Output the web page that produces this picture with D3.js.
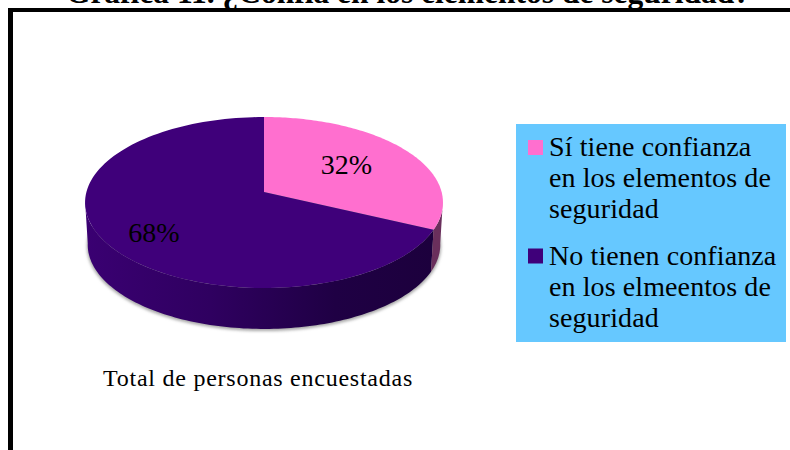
<!DOCTYPE html>
<html><head><meta charset="utf-8">
<script src="https://cdn.jsdelivr.net/npm/d3@7"></script>
<style>html,body{margin:0;padding:0;background:#fff;overflow:hidden}svg{display:block}text{font-family:"Liberation Serif",serif;fill:#000}</style>
</head><body><svg id="c" width="790" height="450"></svg>
<script>
const titleText = "Gráfica 11. ¿Confía en los elementos de seguridad?";
const categoryLabel = "Total de personas encuestadas";
const seriesValues = [32, 68];
const valueLabels = ["32%", "68%"];
const legendLines = [
  ["Sí tiene confianza", "en los elementos de", "seguridad"],
  ["No tienen confianza", "en los elmeentos de", "seguridad"]
];
const topColors = ["#ff6fcf", "#3f007a"];

const svg = d3.select("#c");
const defs = svg.append("defs");
const g = defs.append("linearGradient").attr("id", "wallDark").attr("gradientUnits", "userSpaceOnUse")
  .attr("x1", 85).attr("x2", 443).attr("y1", 0).attr("y2", 0);
[[0, "#3a0072"], [0.35, "#2f0060"], [0.7, "#1f0044"], [1, "#1c003c"]]
  .forEach(s => g.append("stop").attr("offset", s[0]).attr("stop-color", s[1]));
defs.append("filter").attr("id", "blur").attr("x", "-10%").attr("y", "-20%").attr("width", "120%").attr("height", "140%")
  .append("feGaussianBlur").attr("stdDeviation", 1.8);

// frame: left and top edges are visible, the rest runs off the page
svg.append("rect").attr("x", 8).attr("y", 8).attr("width", 782).attr("height", 4).attr("fill", "#000");
svg.append("rect").attr("x", 8).attr("y", 8).attr("width", 5).attr("height", 442).attr("fill", "#000");

// title, clipped by the top of the page as in the source
svg.append("text").attr("x", 408).attr("y", 3).attr("text-anchor", "middle")
  .attr("font-size", 31.5).attr("font-weight", "bold").text(titleText);

// perspective projection of the unit disc
const k = 0.1228, B = 177.6, A = 84.2, cx = 264, cy = 192;
const project = (a, r = 1, scale = 1, dy = 0) => {
  const u = r * Math.sin(a), v = -r * Math.cos(a), d = 1 - k * v;
  return [cx + scale * B * u / d, cy + scale * A * v / d + dy];
};
const pie = d3.pie().sort(null).startAngle(0).endAngle(2 * Math.PI)(seriesValues);
const line = d3.line();
const samples = (s, e) => d3.range(0, 121).map(i => s + (e - s) * i / 120);

// soft shadow below the disc
const shadowPts = samples(0, 2 * Math.PI).map(a => project(a, 1, 0.99, 44));
svg.append("path").attr("d", line(shadowPts) + "Z").attr("fill", "#a8a8a8").attr("filter", "url(#blur)");

// side walls: only the front part between the two silhouette points
const all = samples(0, 2 * Math.PI);
const aRight = d3.greatest(all, a => project(a)[0]);
const aLeft = d3.least(all, a => project(a)[0]);
const wallFill = ["#6a2f5c", "url(#wallDark)"];
[1, 0].forEach(i => {
  const s = samples(Math.max(pie[i].startAngle, aRight), Math.min(pie[i].endAngle, aLeft));
  const pts = s.map(a => project(a)).concat(s.slice().reverse().map(a => project(a, 1, 0.985, 42.4)));
  svg.append("path").attr("d", line(pts) + "Z").attr("fill", wallFill[i]);
});

// top faces
pie.forEach((p, i) => {
  const pts = [[cx, cy]].concat(samples(p.startAngle, p.endAngle).map(a => project(a)));
  svg.append("path").attr("d", line(pts) + "Z").attr("fill", topColors[i]);
});

// value labels
const labelR = [0.57, 0.70], labelDy = [7, 17];
pie.forEach((p, i) => {
  const q = project((p.startAngle + p.endAngle) / 2, labelR[i]);
  svg.append("text").attr("x", q[0]).attr("y", q[1] + labelDy[i]).attr("text-anchor", "middle")
    .attr("font-size", 28).text(valueLabels[i]);
});

// category label
svg.append("text").attr("x", 258).attr("y", 386).attr("text-anchor", "middle")
  .attr("font-size", 24).attr("letter-spacing", 0.75).text(categoryLabel);

// legend
svg.append("rect").attr("x", 516).attr("y", 124).attr("width", 270).attr("height", 218).attr("fill", "#66c8ff");
const legendTop = [156, 264.5];
legendLines.forEach((lines, i) => {
  svg.append("rect").attr("x", 528).attr("y", legendTop[i] - 16).attr("width", 15).attr("height", 15).attr("fill", topColors[i]);
  lines.forEach((t, j) => svg.append("text").attr("x", 549).attr("y", legendTop[i] + j * 31)
    .attr("font-size", 28).attr("letter-spacing", 0.1).text(t));
});
</script></body></html>
